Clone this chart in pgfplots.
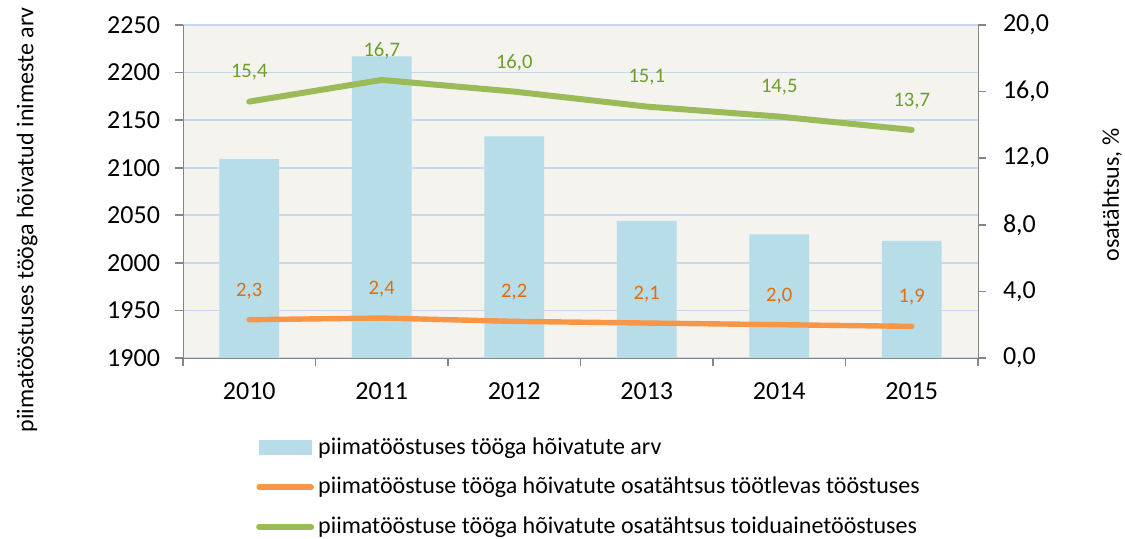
\documentclass[border=0pt]{standalone}
\usepackage{fontspec}
\setmainfont{Carlito}
\usepackage{pgfplots}
\pgfplotsset{compat=1.18}
\definecolor{barcol}{HTML}{B7DDE8}
\definecolor{orangeln}{HTML}{F79646}
\definecolor{greenln}{HTML}{9BBB59}
\definecolor{orangetx}{HTML}{E46C0A}
\definecolor{greentx}{HTML}{6E9E2A}
\definecolor{gridcol}{HTML}{C6D9F1}
\definecolor{bgcol}{HTML}{F4F3EE}
\definecolor{axcol}{HTML}{868686}
\pgfplotsset{lineleg/.style={legend image code/.code={\draw[##1] (0pt,0pt) -- (26pt,0pt);}}}
\begin{document}
\begin{tikzpicture}
\useasboundingbox (0,0) rectangle (562.5pt,269.5pt);
\pgfplotsset{
  every axis/.append style={
    scale only axis, width=397.5pt, height=166.5pt,
    xmin=-0.5, xmax=5.5,
    /pgf/number format/assume math mode=true,
    tick label style={font=\fontsize{13}{15}\selectfont},
    axis line style={draw=axcol},
    tick style={draw=axcol, line width=0.8pt},
    major tick length=4pt, minor tick length=4pt,
    tick align=outside,
  }
}
\begin{axis}[
  at={(91.5pt,90.5pt)}, anchor=south west,
  axis x line*=bottom, axis y line*=left,
  ymin=1900, ymax=2250, ytick={1900,1950,...,2250},
  /pgf/number format/.cd, 1000 sep={}, /pgfplots/.cd,
  ymajorgrids, grid style={draw=gridcol, line width=0.8pt},
  axis background/.style={fill=bgcol},
  xtick={0,...,5}, xticklabels={2010,2011,2012,2013,2014,2015},
  major x tick style={draw=none},
  minor xtick={-0.5,0.5,...,5.5},
  ytick pos=left, xtick pos=bottom,
  yticklabel style={xshift=-4pt},
  xticklabel style={yshift=-5pt},
  ybar, bar width=0.45,
]
\addplot[fill=barcol, draw=none] coordinates {(0,2109) (1,2217) (2,2133) (3,2044) (4,2030) (5,2023)};
\end{axis}
\begin{axis}[
  at={(91.5pt,90.5pt)}, anchor=south west,
  axis x line=none, axis y line*=right,
  ymin=0, ymax=20, ytick={0,4,...,20},
  /pgf/number format/.cd, fixed, fixed zerofill, precision=1, use comma, /pgfplots/.cd,
  yticklabel style={xshift=5pt},
  legend style={at={(axis description cs:0.084,-0.214)}, anchor=north west, draw=none, fill=none,
    font=\fontsize{12}{14}\selectfont, row sep=6pt},
  legend cell align=left,
]
\addlegendimage{legend image code/.code={\fill[barcol] (0pt,-3.3pt) rectangle (26pt,3.3pt);}}
\addlegendentry{piimatööstuses tööga hõivatute arv}
\addplot[orangeln, line width=2.7pt, line cap=round, lineleg,
  nodes near coords,
  every node near coord/.append style={text=orangetx, anchor=center, yshift=14.5pt, font=\fontsize{10.3}{12}\selectfont}]
  coordinates {(0,2.3) (1,2.4) (2,2.2) (3,2.1) (4,2.0) (5,1.9)};
\addlegendentry{piimatööstuse tööga hõivatute osatähtsus töötlevas tööstuses}
\addplot[greenln, line width=3pt, line cap=round, lineleg,
  nodes near coords,
  every node near coord/.append style={text=greentx, anchor=center, yshift=14.5pt, font=\fontsize{10.3}{12}\selectfont}]
  coordinates {(0,15.4) (1,16.7) (2,16.0) (3,15.1) (4,14.5) (5,13.7)};
\addlegendentry{piimatööstuse tööga hõivatute osatähtsus toiduainetööstuses}
\end{axis}
\node[rotate=90, font=\fontsize{12}{14}\selectfont] at (13.5pt,159.5pt) {piimatööstuses tööga hõivatud inimeste arv};
\node[rotate=90, font=\fontsize{12}{14}\selectfont] at (556pt,172pt) {osatähtsus, \%};
\end{tikzpicture}
\end{document}
